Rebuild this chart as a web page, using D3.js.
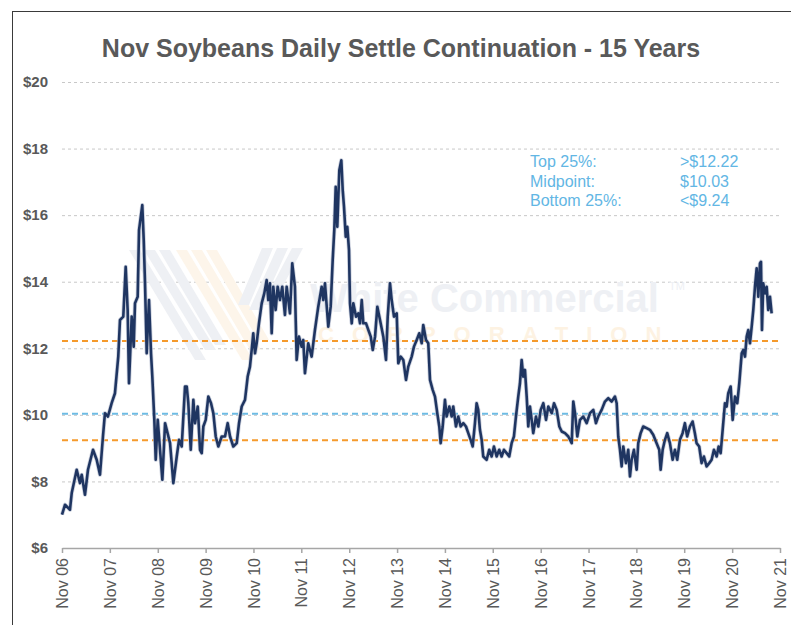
<html>
<head>
<script src="https://d3js.org/d3.v7.min.js"></script>
<style>
  body { margin: 0; background: #fff; }
  text { font-family: Arial, "Liberation Sans", sans-serif; }
</style>
</head>
<body>
<script>
// settle dates as decimal years
var dates = [2006.833,2006.896,2007.000,2007.036,2007.140,2007.209,2007.245,2007.313,2007.376,2007.481,
  2007.558,2007.627,2007.689,2007.731,2007.794,2007.871,2007.940,2008.009,2008.045,2008.114,
  2008.164,2008.205,2008.233,2008.289,2008.331,2008.358,2008.414,2008.442,2008.510,2008.540,
  2008.567,2008.602,2008.650,2008.692,2008.719,2008.761,2008.790,2008.832,2008.880,2008.928,
  2008.985,2009.020,2009.089,2009.158,2009.229,2009.277,2009.333,2009.402,2009.438,2009.471,
  2009.522,2009.576,2009.611,2009.668,2009.716,2009.751,2009.785,2009.835,2009.889,2009.946,
  2009.994,2010.044,2010.098,2010.169,2010.238,2010.294,2010.343,2010.411,2010.483,2010.531,
  2010.587,2010.656,2010.712,2010.760,2010.796,2010.829,2010.865,2010.900,2010.948,2011.005,
  2011.059,2011.109,2011.143,2011.178,2011.214,2011.247,2011.297,2011.339,2011.387,2011.435,
  2011.491,2011.527,2011.596,2011.644,2011.700,2011.736,2011.784,2011.840,2011.874,2011.909,
  2011.978,2012.049,2012.118,2012.187,2012.258,2012.292,2012.327,2012.396,2012.446,2012.488,
  2012.521,2012.551,2012.584,2012.626,2012.668,2012.697,2012.724,2012.760,2012.793,2012.828,
  2012.849,2012.885,2012.918,2012.975,2013.023,2013.058,2013.094,2013.127,2013.184,2013.232,
  2013.282,2013.324,2013.372,2013.420,2013.476,2013.545,2013.601,2013.637,2013.685,2013.720,
  2013.768,2013.825,2013.858,2013.908,2013.963,2014.019,2014.067,2014.138,2014.186,2014.243,
  2014.297,2014.347,2014.380,2014.437,2014.485,2014.521,2014.577,2014.625,2014.673,2014.715,
  2014.744,2014.786,2014.834,2014.869,2014.924,2014.974,2015.007,2015.064,2015.112,2015.162,
  2015.216,2015.273,2015.321,2015.371,2015.413,2015.461,2015.496,2015.530,2015.565,2015.601,
  2015.634,2015.705,2015.759,2015.810,2015.858,2015.914,2015.968,2016.018,2016.066,2016.123,
  2016.177,2016.227,2016.275,2016.317,2016.365,2016.401,2016.436,2016.470,2016.505,2016.541,
  2016.574,2016.609,2016.645,2016.678,2016.735,2016.783,2016.833,2016.888,2016.944,2016.992,
  2017.063,2017.111,2017.167,2017.222,2017.272,2017.341,2017.410,2017.481,2017.514,2017.550,
  2017.598,2017.654,2017.723,2017.794,2017.863,2017.932,2017.988,2018.036,2018.107,2018.176,
  2018.245,2018.316,2018.385,2018.421,2018.454,2018.490,2018.525,2018.559,2018.615,2018.663,
  2018.699,2018.734,2018.782,2018.839,2018.872,2018.922,2018.976,2019.047,2019.116,2019.185,
  2019.256,2019.311,2019.340,2019.382,2019.430,2019.478,2019.534,2019.591,2019.639,2019.687,
  2019.743,2019.799,2019.847,2019.895,2019.952,2020.008,2020.056,2020.091,2020.146,2020.196,
  2020.244,2020.300,2020.355,2020.405,2020.453,2020.510,2020.551,2020.593,2020.635,2020.683,
  2020.718,2020.752,2020.802,2020.844,2020.892,2020.940,2020.982,2021.032,2021.065,2021.101,
  2021.136,2021.170,2021.205,2021.241,2021.274,2021.310,2021.345,2021.379,2021.414,2021.435,
  2021.456,2021.483,2021.519,2021.554,2021.587,2021.623,2021.658];

var prices = [7.00,7.30,7.15,7.65,8.35,7.95,8.20,7.60,8.35,8.95,
  8.65,8.20,9.35,10.05,9.95,10.35,10.65,11.75,12.85,12.95,
  14.45,13.15,10.95,12.95,12.05,13.35,13.55,15.55,16.30,15.25,
  13.95,11.85,13.45,11.85,11.15,9.85,8.65,9.85,8.95,8.05,
  9.75,9.55,9.15,7.95,8.75,9.25,9.05,10.85,10.85,10.35,
  8.95,10.45,9.75,10.25,8.95,8.85,9.65,9.85,10.55,10.35,
  10.05,9.35,9.05,9.35,9.35,9.75,9.35,9.05,9.15,9.75,
  10.25,10.45,11.15,11.45,11.95,12.45,11.85,12.15,12.75,13.35,
  13.65,14.05,13.45,13.95,12.45,13.85,13.15,13.85,13.45,13.85,
  13.00,13.85,13.05,14.55,13.85,11.65,12.35,12.05,12.25,11.25,
  12.15,11.75,12.55,13.25,13.85,13.45,13.95,12.65,13.25,14.65,
  15.55,16.85,15.65,17.35,17.65,16.75,16.25,15.35,15.65,14.95,
  13.35,12.75,13.35,12.95,13.05,12.75,13.45,12.75,12.75,12.55,
  12.35,11.95,12.35,13.25,12.85,12.35,11.65,12.95,13.95,13.45,
  12.95,13.05,11.55,11.75,11.65,11.05,11.45,11.75,12.05,12.25,
  12.45,12.15,12.70,12.25,12.15,11.05,10.75,10.55,10.05,9.65,
  9.15,9.65,10.45,9.95,10.25,9.95,10.25,9.65,9.95,9.65,
  9.75,9.65,9.45,9.25,9.05,9.75,10.35,10.15,9.55,9.25,
  8.75,8.65,8.95,8.75,9.05,8.75,8.95,8.75,8.95,8.85,
  8.75,9.15,9.35,9.95,10.55,10.95,11.65,11.15,11.35,10.55,
  9.65,10.25,9.85,9.45,9.95,9.65,10.15,10.35,9.85,10.25,
  10.05,10.35,10.15,9.65,9.50,9.45,9.35,9.15,10.40,10.05,
  9.35,9.85,9.95,9.75,10.05,10.15,9.75,9.95,10.15,10.40,
  10.50,10.40,10.55,10.35,9.35,8.95,8.45,9.05,8.55,8.95,
  8.15,8.65,8.95,8.35,9.15,9.45,9.65,9.60,9.55,9.40,
  9.15,8.95,8.35,8.95,9.25,9.45,9.15,8.65,8.95,8.65,
  9.25,9.45,9.75,9.35,9.65,9.80,9.45,9.15,9.05,8.55,
  8.75,8.45,8.55,8.65,8.95,8.75,9.05,8.85,9.55,10.35,
  10.25,10.65,10.85,9.85,10.55,10.35,10.95,11.85,11.95,11.75,
  12.35,12.55,12.15,12.65,13.15,13.85,14.40,13.55,14.55,14.60,
  12.55,13.95,13.65,13.85,13.15,13.55,13.05];

var yTicks = [6, 8, 10, 12, 14, 16, 18, 20];
var tickYears = d3.range(2006, 2022);
var levelNames = ["Top 25%:", "Midpoint:", "Bottom 25%:"];
var levelValues = [12.22, 10.03, 9.24];
var levelLabels = [">$12.22", "$10.03", "<$9.24"];
var levelColors = ["#f59a2c", "#6dbbe3", "#f59a2c"];

function toDate(y) {
  var yr = Math.floor(y);
  var a = new Date(yr, 0, 1), b = new Date(yr + 1, 0, 1);
  return new Date(+a + (y - yr) * (b - a));
}
var series = dates.map(function(d, i) { return {date: toDate(d), value: prices[i]}; });

var width = 791, height = 625;
var svg = d3.select("body").append("svg").attr("width", width).attr("height", height);

// frame
svg.append("rect").attr("x", 12.5).attr("y", 11.5).attr("width", 800).attr("height", 700)
  .attr("fill", "none").attr("stroke", "#3a3a3a").attr("stroke-width", 1);

var x = d3.scaleTime().domain([new Date(2006, 10, 1), new Date(2021, 10, 1)]).range([62, 780]);
var y = d3.scaleLinear().domain([6, 20]).range([548, 82]);

svg.append("text").attr("x", 401).attr("y", 57).attr("text-anchor", "middle")
  .attr("font-size", 25).attr("font-weight", "bold").attr("fill", "#595959")
  .text("Nov Soybeans Daily Settle Continuation - 15 Years");

// grid
svg.append("g").selectAll("line").data(yTicks.filter(function(d) { return d > 6; })).enter()
  .append("line")
  .attr("x1", 62).attr("x2", 780)
  .attr("y1", function(d) { return y(d) + 0.5; }).attr("y2", function(d) { return y(d) + 0.5; })
  .attr("stroke", "#c8c8c8").attr("stroke-width", 1).attr("stroke-dasharray", "3,3");

// watermark
var wm = svg.append("g");
var stripes = [
  [129, 250, 195, 360, "#eef0f4"], [144, 250, 205, 350, "#eef0f4"], [159, 250, 215, 345, "#eef0f4"],
  [176, 250, 242, 360, "#fdf5ea"], [191, 250, 250, 350, "#fdf5ea"], [206, 250, 258, 340, "#fdf5ea"]
];
stripes.forEach(function(s) {
  wm.append("path").attr("d", "M" + s[0] + "," + s[1] + "L" + (s[0] + 11) + "," + s[1] +
    "L" + (s[2] + 11) + "," + s[3] + "L" + s[2] + "," + s[3] + "Z").attr("fill", s[4]);
});
[[262, 248, 238, 305], [277, 248, 249, 310], [292, 248, 262, 305]].forEach(function(s) {
  wm.append("path").attr("d", "M" + s[0] + "," + s[1] + "L" + (s[0] + 11) + "," + s[1] +
    "L" + (s[2] + 11) + "," + s[3] + "L" + s[2] + "," + s[3] + "Z").attr("fill", "#eef0f4");
});
wm.append("text").attr("x", 310).attr("y", 312).attr("font-size", 40).attr("font-weight", 600)
  .attr("font-family", "'Open Sans', sans-serif").attr("fill", "#eef0f4").text("White Commercial");
wm.append("text").attr("x", 669).attr("y", 290).attr("font-size", 11)
  .attr("font-family", "'Open Sans', sans-serif").attr("fill", "#eef0f4").text("TM");
wm.append("text").attr("x", 318).attr("y", 342).attr("font-size", 22).attr("font-weight", 600)
  .attr("letter-spacing", 18).attr("font-family", "'Open Sans', sans-serif")
  .attr("fill", "#fdf2e2").text("CORPORATION");

// y axis labels
var yAxis = svg.append("g").attr("transform", "translate(48,0)")
  .call(d3.axisLeft(y).tickValues(yTicks).tickSize(0).tickPadding(0)
    .tickFormat(function(d) { return "$" + d; }));
yAxis.select(".domain").remove();
yAxis.selectAll("text").attr("font-size", 15).attr("font-weight", "bold").attr("fill", "#595959")
  .attr("font-family", "Arial, 'Liberation Sans', sans-serif");

// x axis
var xAxis = svg.append("g").attr("transform", "translate(0,548)")
  .call(d3.axisBottom(x).tickValues(tickYears.map(function(yr) { return new Date(yr, 10, 1); }))
    .tickSize(5).tickSizeOuter(0).tickFormat(d3.timeFormat("%b %y")));
xAxis.select(".domain").attr("stroke", "#a6a6a6").attr("stroke-width", 1.5);
xAxis.selectAll(".tick line").attr("stroke", "#a6a6a6").attr("stroke-width", 1.5);
xAxis.selectAll("text")
  .attr("transform", "rotate(-90)").attr("text-anchor", "end")
  .attr("x", -10).attr("y", 0).attr("dy", "0.35em")
  .attr("font-size", 16).attr("fill", "#595959")
  .attr("font-family", "Arial, 'Liberation Sans', sans-serif");

// quartile lines
svg.append("g").selectAll("line").data(levelValues).enter().append("line")
  .attr("x1", 62).attr("x2", 780)
  .attr("y1", function(d) { return y(d); }).attr("y2", function(d) { return y(d); })
  .attr("stroke", function(d, i) { return levelColors[i]; })
  .attr("stroke-width", 2).attr("stroke-dasharray", "6,4");

// price line
var line = d3.line().x(function(d) { return x(d.date); }).y(function(d) { return y(d.value); });
svg.append("path").datum(series).attr("d", line).attr("fill", "none")
  .attr("stroke", "#b9c1d2").attr("stroke-width", 4.2).attr("stroke-linejoin", "round").attr("opacity", 0.7);
svg.append("path").datum(series).attr("d", line).attr("fill", "none")
  .attr("stroke", "#1f3561").attr("stroke-width", 2.6).attr("stroke-linejoin", "round");

// legend text
var leg = svg.append("g");
levelNames.forEach(function(n, i) {
  leg.append("text").attr("x", 530).attr("y", 167 + i * 19.5).attr("font-size", 16)
    .attr("fill", "#62b6e4").text(n);
  leg.append("text").attr("x", 680).attr("y", 167 + i * 19.5).attr("font-size", 16)
    .attr("fill", "#62b6e4").text(levelLabels[i]);
});
</script>
</body>
</html>
